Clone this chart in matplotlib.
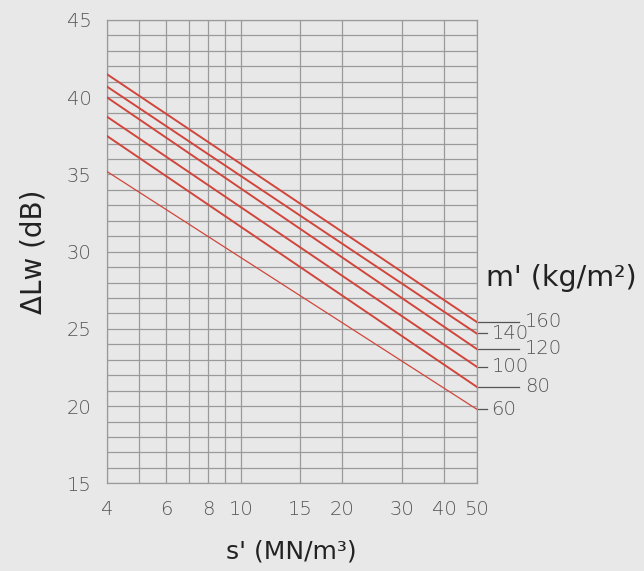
import matplotlib
matplotlib.use('Agg')
import matplotlib.pyplot as plt
import matplotlib.transforms as mtransforms
import numpy as np

# stiffness s' (MN/m3) range, end points of each line
s_ends = [4, 50]
masses = [60, 80, 100, 120, 140, 160]
dlw_at_4 = [35.2, 37.5, 38.75, 40.0, 40.7, 41.5]
dlw_at_50 = [19.8, 21.25, 22.55, 23.7, 24.7, 25.45]

x_grid = [4, 5, 6, 7, 8, 9, 10, 15, 20, 30, 40, 50]
x_labels = ['4', '', '6', '', '8', '', '10', '15', '20', '30', '40', '50']
y_major = [15, 20, 25, 30, 35, 40, 45]

BG = '#e8e8e8'
GRID = '#9a9a9a'
RED = '#d0463c'
TXT = '#555555'
THIN = dict(family=['DejaVu Sans'], weight='ultralight')

fig = plt.figure(figsize=(6.44, 5.71), dpi=100, facecolor=BG)
ax = fig.add_axes([0.1657, 0.1536, 0.5745, 0.8114])
ax.set_facecolor(BG)

ax.set_xscale('log')
ax.set_xlim(4, 50)
ax.set_ylim(15, 45)

for i, m in enumerate(masses):
    lw = 0.9 if m == 60 else 1.4
    ax.plot(s_ends, [dlw_at_4[i], dlw_at_50[i]], color=RED, lw=lw, zorder=3)

ax.set_xticks(x_grid)
ax.set_xticklabels(x_labels)
ax.xaxis.set_minor_locator(matplotlib.ticker.NullLocator())
ax.set_yticks(y_major)
ax.set_yticks(np.arange(15, 46, 1), minor=True)
ax.grid(True, which='both', axis='y', color=GRID, lw=0.9)
ax.grid(True, which='major', axis='x', color=GRID, lw=0.9)
ax.tick_params(axis='both', which='both', length=0, labelsize=14, labelcolor=TXT)
ax.tick_params(axis='x', pad=12)
ax.tick_params(axis='y', pad=11)
for lab in ax.get_xticklabels() + ax.get_yticklabels():
    lab.set_fontweight('ultralight')
for sp in ax.spines.values():
    sp.set_color(GRID)
    sp.set_linewidth(0.9)

ax.set_ylabel('ΔLw (dB)', fontsize=20, color='#222222', labelpad=14)
ax.set_xlabel("s' (MN/m³)", fontsize=18, color='#222222', labelpad=15)

# labels on the right side
trans = mtransforms.blended_transform_factory(ax.transAxes, ax.transData)
for i, m in enumerate(masses):
    y = dlw_at_50[i]
    if i % 2 == 1:
        ax.plot([1.0, 1.115], [y, y], color='#555555', lw=0.9, transform=trans, clip_on=False)
        ax.text(1.13, y, str(m), transform=trans, fontsize=14, color=TXT, va='center', ha='left', **THIN)
    else:
        ax.plot([1.0, 1.027], [y, y], color='#555555', lw=0.9, transform=trans, clip_on=False)
        ax.text(1.04, y, str(m), transform=trans, fontsize=14, color=TXT, va='center', ha='left', **THIN)

ax.text(1.025, 28.3, "m' (kg/m²)", transform=trans, fontsize=20.5, color='#222222', va='center', ha='left')

fig.savefig('out.png', dpi=100, facecolor=BG)
